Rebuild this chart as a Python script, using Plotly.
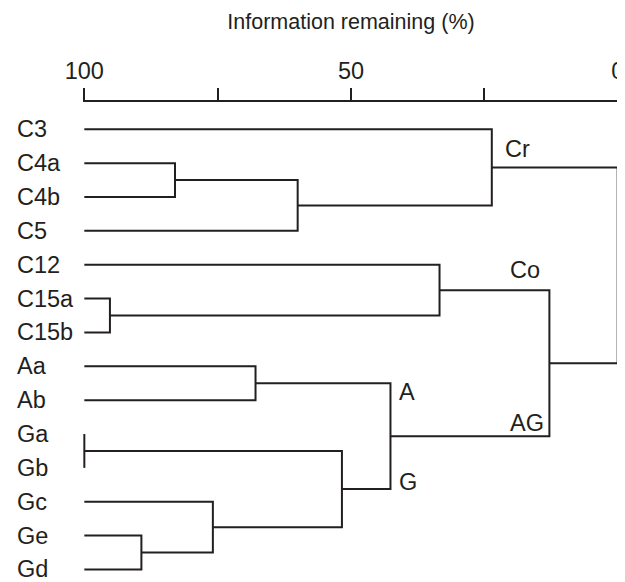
import plotly.graph_objects as go

# ---- data ----
leaves = ["C3", "C4a", "C4b", "C5", "C12", "C15a", "C15b",
          "Aa", "Ab", "Ga", "Gb", "Gc", "Ge", "Gd"]

cluster_names = ["C4", "C45", "Cr", "C15", "Co", "A", "Gab", "Ged", "Gced", "G", "AG", "CoAG", "root"]
cluster_left = ["C4a", "C4", "C3", "C15a", "C12", "Aa", "Ga", "Ge", "Gc", "Gab", "A", "Co", "Cr"]
cluster_right = ["C4b", "C5", "C45", "C15b", "C15", "Ab", "Gb", "Gd", "Ged", "Gced", "G", "AG", "CoAG"]
info_remaining = [83.0, 60.0, 23.6, 95.2, 33.4, 67.9, 100.0, 89.3, 75.9, 51.7, 42.6, 12.8, 0.0]

tick_values = [100, 75, 50, 25, 0]
tick_labels = ["100", "", "50", "", "0"]

group_labels = ["Cr", "Co", "AG", "A", "G"]

FONT = "Liberation Sans, Arial, Helvetica, sans-serif"
INK = "#231f20"
LABEL_SIZE = 23.5

# ---- build dendrogram geometry from linkage ----
pos_y = {name: i for i, name in enumerate(leaves)}
pos_x = {name: 100.0 for name in leaves}
xs, ys = [], []
for name, l, r, h in zip(cluster_names, cluster_left, cluster_right, info_remaining):
    xs += [pos_x[l], h, h, pos_x[r], None]
    ys += [pos_y[l], pos_y[l], pos_y[r], pos_y[r], None]
    pos_x[name] = h
    pos_y[name] = (pos_y[l] + pos_y[r]) / 2.0

fig = go.Figure()
fig.add_trace(go.Scatter(x=xs, y=ys, mode="lines",
                         line=dict(color=INK, width=2),
                         hoverinfo="skip", showlegend=False))

# page body has an 8px margin; figure is sized to fit the 625x582 window
W, H = 617, 574
L, R, T, B = 75, 6, 94, 0
plot_w = W - L - R

annotations = []
for name in leaves:
    annotations.append(dict(x=(7 - L) / plot_w, xref="paper", y=pos_y[name], yref="y",
                            text=name, showarrow=False, xanchor="left", yanchor="middle",
                            font=dict(family=FONT, size=LABEL_SIZE, color=INK)))

# group label anchors: (anchor x cluster, anchor y cluster, xanchor, xshift, yshift)
label_anchor = {
    "Cr": ("Cr", "Cr", "left", 11, 18),
    "Co": ("CoAG", "Co", "right", -7, 20),
    "AG": ("CoAG", "AG", "right", -3, 13),
    "A": ("AG", "A", "left", 7, -9),
    "G": ("AG", "G", "left", 7, 7),
}
for lab in group_labels:
    cx, cy, xa, xsh, ysh = label_anchor[lab]
    annotations.append(dict(x=pos_x[cx], y=pos_y[cy], xref="x", yref="y", text=lab,
                            showarrow=False, xanchor=xa, yanchor="middle",
                            xshift=xsh, yshift=ysh,
                            font=dict(family=FONT, size=LABEL_SIZE, color=INK)))

fig.update_layout(
    width=W, height=H,
    margin=dict(l=L, r=R, t=T, b=B, autoexpand=False),
    plot_bgcolor="white", paper_bgcolor="white",
    font=dict(family=FONT, size=LABEL_SIZE, color=INK),
    annotations=annotations,
    xaxis=dict(side="top", range=[100.25, -0.25], tickvals=tick_values, ticktext=tick_labels,
               ticks="outside", ticklen=12, tickwidth=2, tickcolor=INK, automargin=False,
               showline=True, linewidth=2, linecolor=INK, showgrid=False, zeroline=False,
               tickfont=dict(family=FONT, size=LABEL_SIZE, color=INK),
               title=dict(text="Information remaining (%)", standoff=22,
                          font=dict(family=FONT, size=21.5, color=INK))),
    yaxis=dict(range=[13.37, -0.806], visible=False, showgrid=False, zeroline=False),
)

fig.write_html("out.html")
